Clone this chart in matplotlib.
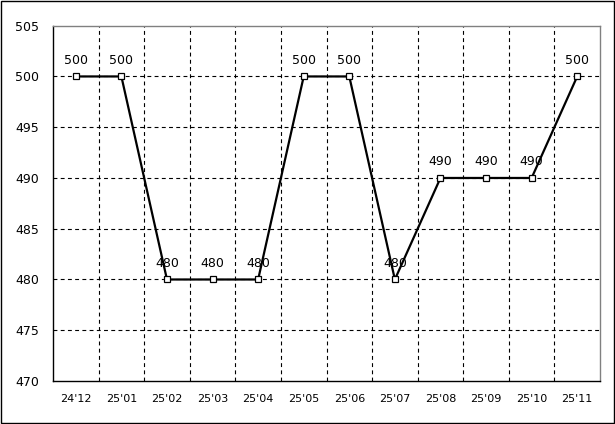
import matplotlib
matplotlib.use("Agg")
import matplotlib.pyplot as plt
from matplotlib.patches import Rectangle
import numpy as np

months = ["24'12", "25'01", "25'02", "25'03", "25'04", "25'05",
          "25'06", "25'07", "25'08", "25'09", "25'10", "25'11"]
values = [500, 500, 480, 480, 480, 500, 500, 480, 490, 490, 490, 500]
y_ticks = [470, 475, 480, 485, 490, 495, 500, 505]

fig = plt.figure(figsize=(6.15, 4.24), dpi=100)
fig.patch.set_facecolor("white")
fig.patches.append(Rectangle((0.001, 0.002), 0.997, 0.996, transform=fig.transFigure,
                             fill=False, edgecolor="black", linewidth=1.0))

ax = fig.add_axes([0.0862, 0.1014, 0.8894, 0.838])
x = np.arange(len(months))

ax.plot(x, values, color="black", linewidth=1.6, marker="s", markersize=4.5,
        markerfacecolor="white", markeredgecolor="black", markeredgewidth=0.9, zorder=3)
for xi, v in zip(x, values):
    ax.annotate(str(v), (xi, v), xytext=(0, 7), textcoords="offset points",
                ha="center", va="bottom", fontsize=9, color="black", zorder=4)

ax.set_xlim(-0.5, len(months) - 0.5)
ax.set_ylim(470, 505)
ax.set_yticks(y_ticks)
ax.set_xticks(x)
ax.set_xticklabels(months, fontsize=8)

ax.grid(False)
for gx in x[:-1] + 0.5:
    ax.axvline(gx, color="black", linewidth=0.8, linestyle=(0, (3.5, 3)), zorder=1)
for gy in y_ticks[1:-1]:
    ax.axhline(gy, color="black", linewidth=0.8, linestyle=(0, (3.5, 3)), zorder=1)

ax.tick_params(axis="both", which="both", length=0)
ax.tick_params(axis="y", pad=10, labelsize=9)
ax.tick_params(axis="x", pad=9)
ax.spines["left"].set_color("black")
ax.spines["bottom"].set_color("black")
ax.spines["top"].set_color("#808080")
ax.spines["right"].set_color("#808080")
for s in ax.spines.values():
    s.set_linewidth(1.0)

fig.savefig("out.png", dpi=100)
